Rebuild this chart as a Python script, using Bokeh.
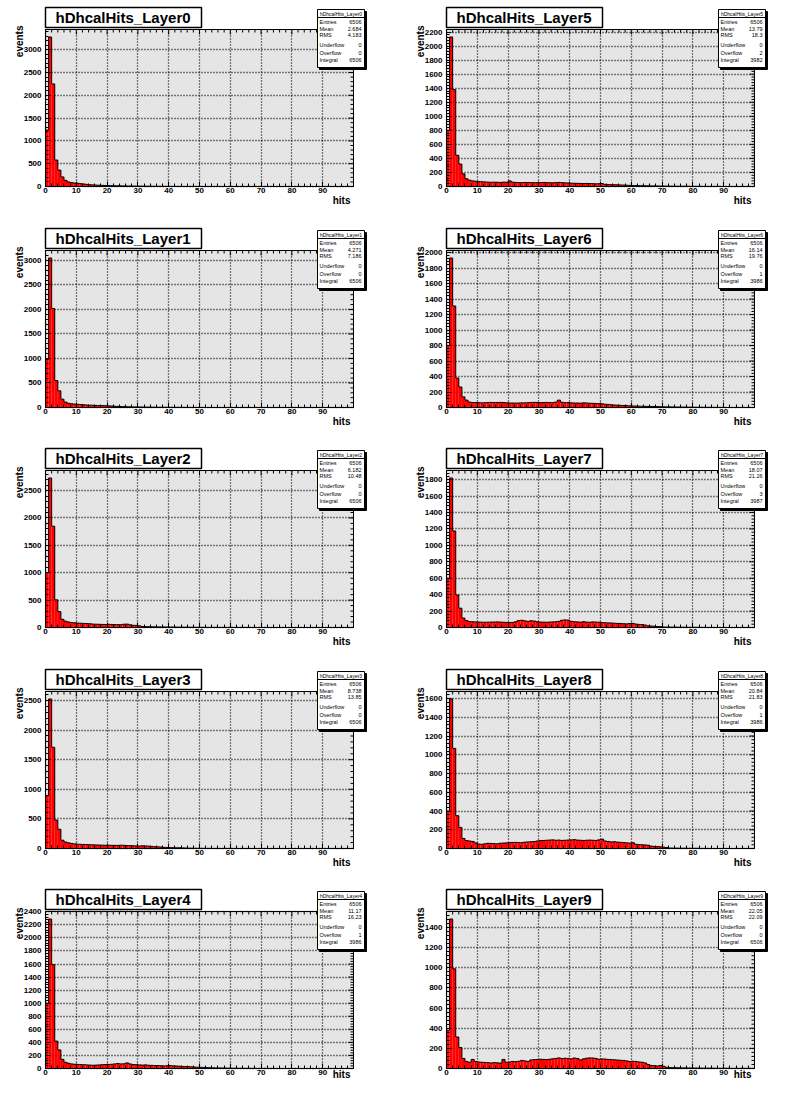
import numpy as np
from bokeh.plotting import figure
from bokeh.models import Range1d, FixedTicker, BoxAnnotation, Label
from bokeh.layouts import gridplot
from bokeh.embed import file_html
from bokeh.resources import INLINE

# ---------------- data ----------------
layer_names = [f"hDhcalHits_Layer{i}" for i in range(10)]
x_major_ticks = [0, 10, 20, 30, 40, 50, 60, 70, 80, 90]

counts_layer0 = [1240, 3280, 2250, 580, 360, 210, 135, 100, 85, 75, 70, 62, 55, 46, 40, 35, 30, 28, 25, 22,
                 20, 18, 16, 15, 14, 12, 11, 10, 9, 8, 8, 7, 6, 5, 5, 4, 4, 3, 3, 3, 2, 2, 2, 2, 1, 1, 1, 1, 1, 1, 1]
counts_layer1 = [980, 3050, 2020, 550, 340, 170, 110, 85, 75, 70, 65, 60, 55, 50, 48, 45, 42, 40, 38, 36,
                 34, 30, 26, 22, 20, 18, 16, 14, 12, 11, 10, 9, 8, 7, 6, 6, 5, 5, 4, 4, 3, 3, 3, 2, 2, 2, 2, 1, 1, 1, 1]
counts_layer2 = [1000, 2730, 1850, 505, 290, 150, 115, 100, 90, 85, 80, 78, 75, 72, 68, 62, 60, 58, 56, 55,
                 58, 56, 54, 52, 50, 60, 62, 48, 40, 38, 30, 18, 16, 14, 13, 12, 11, 10, 10, 9, 8, 8, 7, 6, 6,
                 5, 5, 4, 4, 3, 3, 3, 2, 2, 2, 2, 1, 1, 1, 1, 1, 1, 1, 1, 1, 1, 1]
counts_layer3 = [890, 2525, 1710, 480, 325, 140, 110, 95, 85, 78, 72, 70, 68, 66, 64, 62, 60, 58, 56, 55,
                 55, 54, 53, 52, 56, 54, 50, 48, 46, 44, 42, 45, 43, 40, 35, 30, 28, 25, 20, 17, 15, 14, 12,
                 12, 10, 8, 6, 5, 4, 3, 3, 2, 2, 2, 1, 1, 1, 1, 1, 1, 1]
counts_layer4 = [1000, 2290, 1590, 420, 285, 140, 95, 80, 70, 65, 62, 60, 58, 55, 52, 50, 52, 55, 58, 60,
                 62, 65, 70, 75, 70, 72, 85, 70, 60, 58, 55, 52, 55, 50, 48, 45, 45, 42, 40, 42, 45, 40, 38,
                 35, 32, 30, 28, 25, 22, 20, 18, 16, 14, 12, 10, 9, 8, 7, 6, 5, 4, 4, 3, 3, 2, 2, 2, 1, 1, 1,
                 1, 1, 1, 1, 1]
counts_layer5 = [800, 2130, 1380, 445, 320, 180, 110, 90, 80, 75, 70, 68, 65, 62, 60, 62, 60, 58, 62, 60,
                 80, 62, 58, 56, 55, 57, 56, 55, 54, 55, 56, 58, 55, 54, 52, 55, 58, 55, 52, 50, 48, 46, 45,
                 44, 42, 44, 42, 40, 38, 40, 42, 30, 28, 26, 25, 24, 22, 20, 18, 16, 14, 13, 12, 12, 10, 9, 8,
                 8, 7, 6, 6, 5, 5, 4, 4, 3, 3, 3, 3, 2, 2, 2, 2, 1, 1, 1, 1, 1, 1]
counts_layer6 = [800, 1930, 1310, 380, 265, 137, 95, 70, 65, 64, 62, 60, 62, 65, 66, 64, 65, 66, 64, 60,
                 58, 58, 57, 58, 60, 60, 62, 65, 66, 65, 62, 64, 66, 64, 62, 70, 95, 68, 62, 64, 60, 58, 58,
                 56, 60, 58, 55, 54, 52, 50, 48, 42, 40, 35, 32, 30, 28, 26, 24, 22, 20, 18, 17, 16, 15, 14,
                 13, 12, 11, 10, 9, 8, 8, 7, 6, 6, 5, 5, 4, 4, 3, 3, 3, 2, 2, 2, 2, 1, 1, 1]
counts_layer7 = [600, 1820, 1175, 395, 235, 115, 85, 72, 70, 68, 66, 65, 64, 65, 66, 67, 68, 66, 64, 62,
                 60, 62, 70, 85, 88, 80, 75, 82, 78, 70, 66, 65, 64, 66, 68, 70, 75, 88, 92, 90, 75, 70, 68,
                 65, 70, 66, 64, 68, 66, 64, 60, 58, 56, 55, 52, 50, 48, 46, 44, 48, 50, 42, 38, 35, 30, 20,
                 18, 15, 12, 10, 6, 5, 5, 4, 4, 3, 3, 3, 2, 2, 2, 2, 1, 1, 1]
counts_layer8 = [400, 1595, 1068, 350, 225, 107, 85, 80, 75, 60, 48, 45, 50, 55, 54, 52, 50, 56, 58, 60,
                 62, 65, 66, 64, 62, 68, 70, 72, 74, 80, 84, 86, 88, 90, 92, 88, 90, 86, 88, 90, 92, 94, 90,
                 88, 86, 88, 90, 88, 86, 92, 100, 80, 75, 70, 72, 68, 66, 64, 60, 58, 62, 45, 42, 40, 38, 35,
                 25, 22, 20, 18, 15, 10, 5, 4, 4, 3, 3, 3, 2, 2, 2, 2, 1, 1, 1]
counts_layer9 = [380, 1485, 990, 313, 208, 100, 70, 62, 90, 70, 65, 62, 60, 58, 55, 58, 56, 54, 90, 62,
                 65, 70, 68, 72, 80, 75, 70, 85, 88, 90, 92, 90, 88, 92, 96, 100, 105, 98, 102, 100, 96, 104,
                 100, 85, 95, 102, 105, 104, 100, 92, 95, 94, 90, 88, 86, 84, 82, 80, 75, 70, 72, 70, 65, 62,
                 55, 40, 30, 28, 25, 30, 22, 12, 10, 8, 8, 7, 6, 6, 5, 5, 4, 4, 4, 3, 3, 3, 3, 2, 2, 2, 2, 2,
                 1, 1, 1, 1, 1, 1, 1, 1]

all_counts = [counts_layer0, counts_layer1, counts_layer2, counts_layer3, counts_layer4,
              counts_layer5, counts_layer6, counts_layer7, counts_layer8, counts_layer9]
y_major_step = [500, 500, 500, 500, 200, 200, 200, 200, 200, 200]

stat_entries = ["6506"] * 10
stat_mean = ["2.684", "4.271", "6.182", "8.738", "11.17", "13.79", "16.14", "18.07", "20.84", "22.05"]
stat_rms = ["4.183", "7.186", "10.48", "13.85", "16.23", "18.3", "19.76", "21.26", "21.83", "22.09"]
stat_underflow = ["0"] * 10
stat_overflow = ["0", "0", "0", "0", "1", "2", "1", "3", "1", "0"]
stat_integral = ["6506", "6506", "6506", "6506", "3986", "3982", "3986", "3987", "3986", "6506"]

N_BINS = 100
X_LO, X_HI = 0, 100

# ---------------- layout constants (pixels) ----------------
FRAME_W, FRAME_H = 308, 157
PAD_W = 390
ROW_HEIGHTS = [221, 220, 221, 220, 197]
FRAME_TOP = 29
FONT = "Liberation Sans"


def style_axis(ax, standoff):
    ax.axis_line_color = "black"
    ax.axis_line_width = 1
    ax.major_tick_line_color = "black"
    ax.minor_tick_line_color = "black"
    ax.major_tick_in = 5
    ax.major_tick_out = 0
    ax.minor_tick_in = 3
    ax.minor_tick_out = 0
    ax.major_label_text_font = FONT
    ax.major_label_text_font_style = "bold"
    ax.major_label_text_color = "black"
    ax.major_label_standoff = standoff
    ax.major_label_text_font_size = "8px"


def make_pad(idx, col, row):
    counts = np.zeros(N_BINS)
    c = np.array(all_counts[idx], dtype=float)
    counts[:len(c)] = c
    ymax = 1.05 * counts.max()
    height = ROW_HEIGHTS[row]
    left = 45 if col == 0 else 56
    bottom = height - FRAME_TOP - FRAME_H

    def px(v):  # pixels from ROOT frame left -> x data
        return X_LO + v * (X_HI - X_LO) / FRAME_W

    def py(v):  # pixels above ROOT frame bottom -> y data
        return v * ymax / FRAME_H

    p = figure(width=PAD_W, height=height, title=None,
               x_range=Range1d(px(-left), px(PAD_W - left)),
               y_range=Range1d(py(-bottom), py(FRAME_H + FRAME_TOP)),
               output_backend="svg", toolbar_location=None,
               min_border_left=0, min_border_right=0, min_border_top=0, min_border_bottom=0)
    p.background_fill_color = "white"
    p.border_fill_color = "white"
    p.outline_line_color = None

    step = y_major_step[idx]
    y_major = list(np.arange(0, ymax + 1e-9, step))
    y_minor = list(np.arange(0, ymax + 1e-9, step / 5))
    x_minor = list(range(X_LO, X_HI + 1, 2))
    xt = FixedTicker(ticks=x_major_ticks, minor_ticks=x_minor)
    yt = FixedTicker(ticks=y_major, minor_ticks=y_minor)

    # ROOT frame fill
    p.add_layout(BoxAnnotation(left=X_LO, right=X_HI, bottom=0, top=ymax, fill_color="#e5e5e5",
                               fill_alpha=1, line_color=None, level="image"))

    xa = p.xaxis[0]
    ya = p.yaxis[0]
    xa.ticker = xt
    ya.ticker = yt
    xa.fixed_location = 0
    ya.fixed_location = X_LO
    xa.bounds = (X_LO, X_HI)
    ya.bounds = (0, ymax)
    style_axis(xa, 1)
    style_axis(ya, 4)

    for g in (p.xgrid[0], p.ygrid[0]):
        g.grid_line_color = "black"
        g.grid_line_dash = "1 2"
        g.grid_line_width = 1.3
    p.xgrid[0].ticker = xt
    p.ygrid[0].ticker = yt
    p.xgrid[0].bounds = (X_LO, X_HI)
    p.xgrid[0].cross_bounds = (0, ymax)
    p.ygrid[0].bounds = (0, ymax)
    p.ygrid[0].cross_bounds = (X_LO, X_HI)

    # histogram
    edges = np.linspace(X_LO, X_HI, N_BINS + 1)
    p.quad(left=edges[:-1], right=edges[1:], bottom=0, top=counts,
           fill_color="#ff0000", line_color=None)
    xs = np.concatenate([[X_LO], edges[:-1], [X_HI]])
    ys = np.concatenate([[0], counts, [0]])
    p.step(x=xs, y=ys, mode="after", line_color="black", line_width=1)

    # opposite-side tick marks (top and right edges of the ROOT frame)
    xmaj = np.array(x_major_ticks, dtype=float)
    xmin = np.array([t for t in x_minor if t not in x_major_ticks and t < X_HI], dtype=float)
    p.segment(x0=xmaj, x1=xmaj, y0=ymax, y1=ymax - py(5), line_color="black", line_width=1)
    p.segment(x0=xmin, x1=xmin, y0=ymax, y1=ymax - py(3), line_color="black", line_width=1)
    ymaj = np.array(y_major, dtype=float)
    ymin = np.array([t for t in y_minor if t not in y_major], dtype=float)
    p.segment(x0=X_HI, x1=X_HI - px(5), y0=ymaj, y1=ymaj, line_color="black", line_width=1)
    p.segment(x0=X_HI, x1=X_HI - px(3), y0=ymin, y1=ymin, line_color="black", line_width=1)

    # ROOT frame border
    p.add_layout(BoxAnnotation(left=X_LO, right=X_HI, bottom=0, top=ymax, fill_alpha=0,
                               line_color="black", line_width=1, line_alpha=1, level="guide"))

    # title box
    p.add_layout(BoxAnnotation(left=px(0), right=px(156), bottom=py(FRAME_H + 2), top=py(FRAME_H + 22),
                               fill_color="white", fill_alpha=1, line_color="black", line_width=1.5,
                               line_alpha=1))
    p.add_layout(Label(x=px(10), y=py(FRAME_H + 12), text=layer_names[idx], text_font=FONT,
                       text_font_style="bold", text_font_size="15px", text_baseline="middle",
                       text_align="left", text_color="black"))

    # stats box with shadow
    p.add_layout(BoxAnnotation(left=px(274), right=px(321), bottom=py(117), top=py(175),
                               fill_color="black", fill_alpha=1, line_color="black", line_alpha=1))
    p.add_layout(BoxAnnotation(left=px(272), right=px(319), bottom=py(119), top=py(177),
                               fill_color="white", fill_alpha=1, line_color="black", line_width=1,
                               line_alpha=1))
    p.add_layout(BoxAnnotation(left=px(272), right=px(319), bottom=py(168.5), top=py(169.5),
                               fill_color="black", fill_alpha=1, line_color=None))
    p.add_layout(Label(x=px(295.5), y=py(173), text=layer_names[idx], text_font=FONT,
                       text_font_size="5px", text_baseline="middle", text_align="center",
                       text_color="black"))
    rows = [("Entries", stat_entries[idx], 164.5), ("Mean", stat_mean[idx], 158),
            ("RMS", stat_rms[idx], 151.5), ("Underflow", stat_underflow[idx], 142),
            ("Overflow", stat_overflow[idx], 134), ("Integral", stat_integral[idx], 126.5)]
    for name, val, yy in rows:
        p.add_layout(Label(x=px(274), y=py(yy), text=name, text_font=FONT, text_font_size="5.5px",
                           text_baseline="middle", text_align="left", text_color="black"))
        p.add_layout(Label(x=px(316), y=py(yy), text=val, text_font=FONT, text_font_size="5.5px",
                           text_baseline="middle", text_align="right", text_color="black"))

    # axis titles (ROOT style: aligned to the axis end)
    p.add_layout(Label(x=px(-26), y=py(FRAME_H + 4), text="events", angle=np.pi / 2, text_font=FONT,
                       text_font_style="bold", text_font_size="10px", text_baseline="middle",
                       text_align="right", text_color="black"))
    hits_y = -13.5 if row < 4 else -6
    p.add_layout(Label(x=px(FRAME_W - 3), y=py(hits_y), text="hits", text_font=FONT,
                       text_font_style="bold", text_font_size="10px", text_baseline="middle",
                       text_align="right", text_color="black"))
    return p


grid_rows = []
for r in range(5):
    grid_rows.append([make_pad(r, 0, r), make_pad(r + 5, 1, r)])

layout = gridplot(grid_rows, toolbar_location=None)

open("out.html", "w").write(file_html(layout, INLINE))
